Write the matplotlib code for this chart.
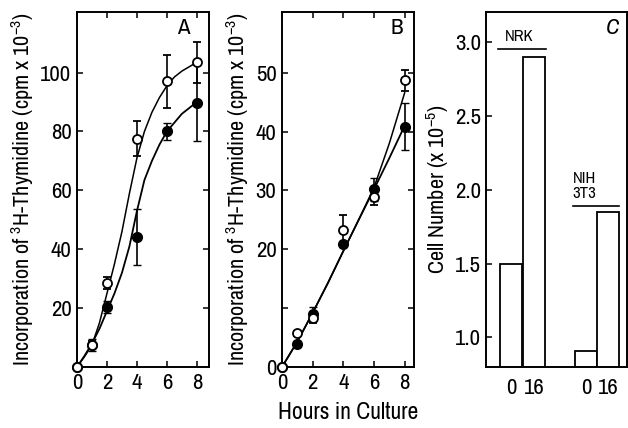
import matplotlib
matplotlib.use("Agg")
import matplotlib.pyplot as plt
from matplotlib import font_manager

# panel A: 3H-thymidine incorporation, cpm x 10^-3
hours_a = [0, 1, 2, 4, 6, 8]
open_a = [0, 7.5, 28.5, 77.5, 97, 103.5]
open_a_err = [0, 1.5, 2, 6, 9, 7]
filled_a = [0, 7.5, 20.4, 44, 80, 89.8]
filled_a_err = [0, 2, 2, 9.5, 3, 13]

# drawn fit curves, read every half hour
curve_hours_a = [0, 0.5, 1, 1.5, 2, 2.5, 3, 3.5, 4, 4.5, 5, 5.5, 6, 6.5, 7, 7.5, 8]
curve_open_a = [0, 3.5, 7.5, 15, 25, 35, 46, 59, 71, 80, 86.5, 91.5, 95.5, 98.5, 100.5, 102, 103.5]
curve_filled_a = [0, 3.8, 8, 13, 19, 25, 32, 41, 53, 63.5, 70, 75.5, 80, 83, 86, 88, 90]

# panel B
hours_b = [0, 1, 2, 4, 6, 8]
open_b = [0, 5.7, 8.4, 23.2, 28.9, 48.7]
open_b_err = [0, 0.5, 1, 2.6, 1.4, 1.8]
filled_b = [0, 3.9, 9.0, 20.9, 30.2, 40.8]
filled_b_err = [0, 0.5, 1.2, 0.5, 2, 4]

curve_hours_b = [0, 1, 2, 3, 4, 5, 6, 7, 8]
curve_open_b = [0, 4.3, 9.2, 14.3, 19.7, 25, 30.5, 38, 46.6]
curve_filled_b = [0, 4.3, 9.2, 14.3, 19.7, 25, 30.2, 35.5, 41]

# panel C: cell number (x 10^-5)
cell_lines = ["NRK", "NIH\n3T3"]
bar_labels = ["0", "16", "0", "16"]
cell_number = [1.5, 2.9, 0.91, 1.85]

# narrow sans, like the condensed Helvetica of the original
names = {f.name for f in font_manager.fontManager.ttflist}
font = "Liberation Sans"
for cand in ["Liberation Sans Narrow", "Archivo Narrow", "Roboto Condensed"]:
    if cand in names:
        font = cand
        break
plt.rcParams["font.family"] = [font, "DejaVu Sans"]
plt.rcParams["mathtext.fontset"] = "custom"
plt.rcParams["mathtext.rm"] = font
plt.rcParams["axes.linewidth"] = 1.4

fig = plt.figure(figsize=(6.28, 4.28), dpi=100)
ax_a = fig.add_axes([0.1226, 0.1425, 0.210, 0.829])
ax_b = fig.add_axes([0.449, 0.1425, 0.210, 0.829])
ax_c = fig.add_axes([0.774, 0.1425, 0.2245, 0.829])

ylab = r"Incorporation of $\mathregular{^{3}}$H-Thymidine (cpm x 10$\mathregular{^{-3}}$)"


def curve_panel(ax, hours, o, oe, f, fe, ch, co, cf):
    ax.plot(ch, co, color="black", lw=1.1)
    ax.plot(ch, cf, color="black", lw=1.3)
    ax.errorbar(hours, o, yerr=oe, fmt="o", ms=6.5, mfc="white", mec="black",
                mew=1.3, ecolor="black", elinewidth=1.2, capsize=3, clip_on=False, zorder=4)
    ax.errorbar(hours, f, yerr=fe, fmt="o", ms=7, color="black",
                ecolor="black", elinewidth=1.2, capsize=3, clip_on=False, zorder=3)
    ax.set_xlim(0, 8.8)
    ax.set_xticks([0, 2, 4, 6, 8])
    ax.tick_params(direction="in", length=4, width=1.1, top=True, right=True,
                   labelsize=16.5, pad=4)
    ax.set_ylabel(ylab, fontsize=16, labelpad=3)


curve_panel(ax_a, hours_a, open_a, open_a_err, filled_a, filled_a_err,
            curve_hours_a, curve_open_a, curve_filled_a)
ax_a.set_ylim(0, 120.5)
ax_a.set_yticks([20, 40, 60, 80, 100])
ax_a.text(0.76, 0.955, "A", transform=ax_a.transAxes, fontsize=16.5, va="center")

curve_panel(ax_b, hours_b, open_b, open_b_err, filled_b, filled_b_err,
            curve_hours_b, curve_open_b, curve_filled_b)
ax_b.set_xlim(0, 8.6)
ax_b.set_ylim(0, 60.3)
ax_b.set_yticks([0, 10, 20, 30, 40, 50])
ax_b.set_yticklabels(["0", "", "20", "30", "40", "50"])
ax_b.text(0.82, 0.955, "B", transform=ax_b.transAxes, fontsize=16.5, va="center")
ax_b.set_xlabel("Hours in Culture", fontsize=17, labelpad=7)

# bars
bar_x = [1.14, 2.18, 4.57, 5.55]
ax_c.bar(bar_x, cell_number, width=1.0, bottom=0, color="white",
         edgecolor="black", linewidth=1.3)
ax_c.set_xlim(0, 6.42)
ax_c.set_ylim(0.8, 3.2)
ax_c.set_xticks(bar_x)
ax_c.set_xticklabels(bar_labels)
ax_c.set_yticks([1.0, 1.5, 2.0, 2.5, 3.0])
ax_c.tick_params(axis="y", direction="in", length=4, width=1.1, labelsize=16.5)
ax_c.tick_params(axis="x", length=0, labelsize=16.5, pad=8)
ax_c.set_ylabel(r"Cell Number (x 10$\mathregular{^{-5}}$)", fontsize=16, labelpad=3)
ax_c.plot([0.55, 2.75], [2.95, 2.95], color="black", lw=1.2)
ax_c.text(0.85, 2.985, cell_lines[0], fontsize=12, va="bottom")
ax_c.plot([3.95, 6.05], [1.89, 1.89], color="black", lw=1.2)
ax_c.text(3.95, 1.925, cell_lines[1], fontsize=12, va="bottom", linespacing=1.0)
ax_c.text(0.85, 0.955, "C", transform=ax_c.transAxes, fontsize=16.5, va="center",
          style="italic")

fig.savefig("out.png", dpi=100)
